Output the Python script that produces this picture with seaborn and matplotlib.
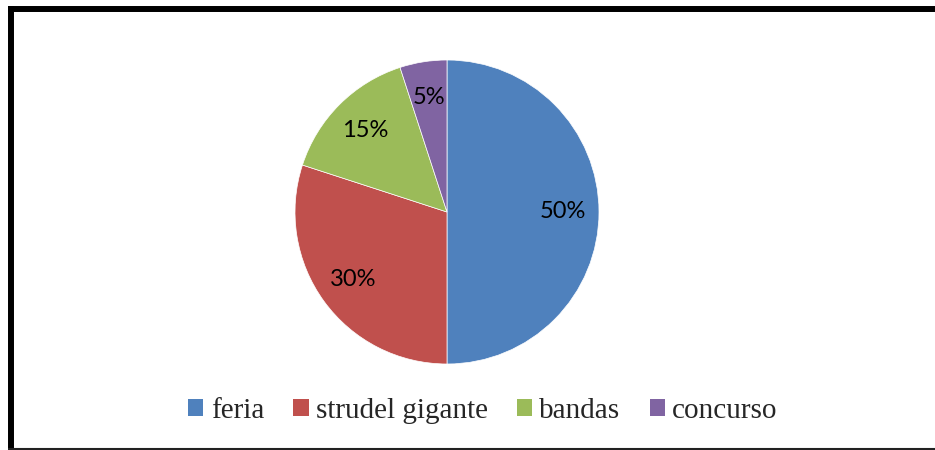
import matplotlib
matplotlib.use("Agg")
import matplotlib.pyplot as plt
from matplotlib.patches import Patch
from matplotlib.lines import Line2D
import seaborn as sns

categories = ["feria", "strudel gigante", "bandas", "concurso"]
shares = [50, 30, 15, 5]
slice_colors = ["#4F81BD", "#C0504D", "#9BBB59", "#8064A2"]

sns.set_theme(style="white")
plt.rcParams["font.family"] = ["Lato", "DejaVu Sans"]

W, H = 935, 450
fig = plt.figure(figsize=(W / 100, H / 100), dpi=100)
fig.patch.set_facecolor("white")

# pie centred at (447, 212) px with radius 152 px
cx, cy, r = 447, 212, 152
ax = fig.add_axes([(cx - r) / W, (H - cy - r) / H, 2 * r / W, 2 * r / H])
palette = sns.color_palette(slice_colors)
wedges, texts, autotexts = ax.pie(
    shares,
    colors=palette,
    startangle=90,
    counterclock=False,
    autopct=lambda p: f"{p:.0f}%",
    pctdistance=0.76,
    radius=1,
    wedgeprops=dict(linewidth=0.5, edgecolor="white"),
    textprops=dict(fontsize=17, color="black"),
)
ax.set_xlim(-1, 1)
ax.set_ylim(-1, 1)
ax.set_aspect("equal")
ax.axis("off")

# legend below the pie
handles = [Patch(facecolor=c, edgecolor="none") for c in palette]
leg = fig.legend(
    handles, categories,
    loc="center", bbox_to_anchor=(483 / W, (H - 411) / H),
    ncol=4, frameon=False,
    prop=dict(family="Liberation Serif", size=21),
    handlelength=0.52, handleheight=0.52, handletextpad=0.25,
    columnspacing=1.0, borderpad=0, borderaxespad=0,
)

# chart frame: heavy left and top rules, thin bottom rule
fig.add_artist(Line2D([11 / W, 11 / W], [1 - 6 / H, 0], transform=fig.transFigure,
                      color="black", linewidth=4.3, solid_capstyle="butt"))
fig.add_artist(Line2D([8 / W, 1], [1 - 9 / H, 1 - 9 / H], transform=fig.transFigure,
                      color="black", linewidth=4.3, solid_capstyle="butt"))
fig.add_artist(Line2D([8 / W, 1], [1 - 448.5 / H, 1 - 448.5 / H], transform=fig.transFigure,
                      color="#222222", linewidth=1.5, solid_capstyle="butt"))

fig.savefig("out.png", dpi=100, facecolor="white")
